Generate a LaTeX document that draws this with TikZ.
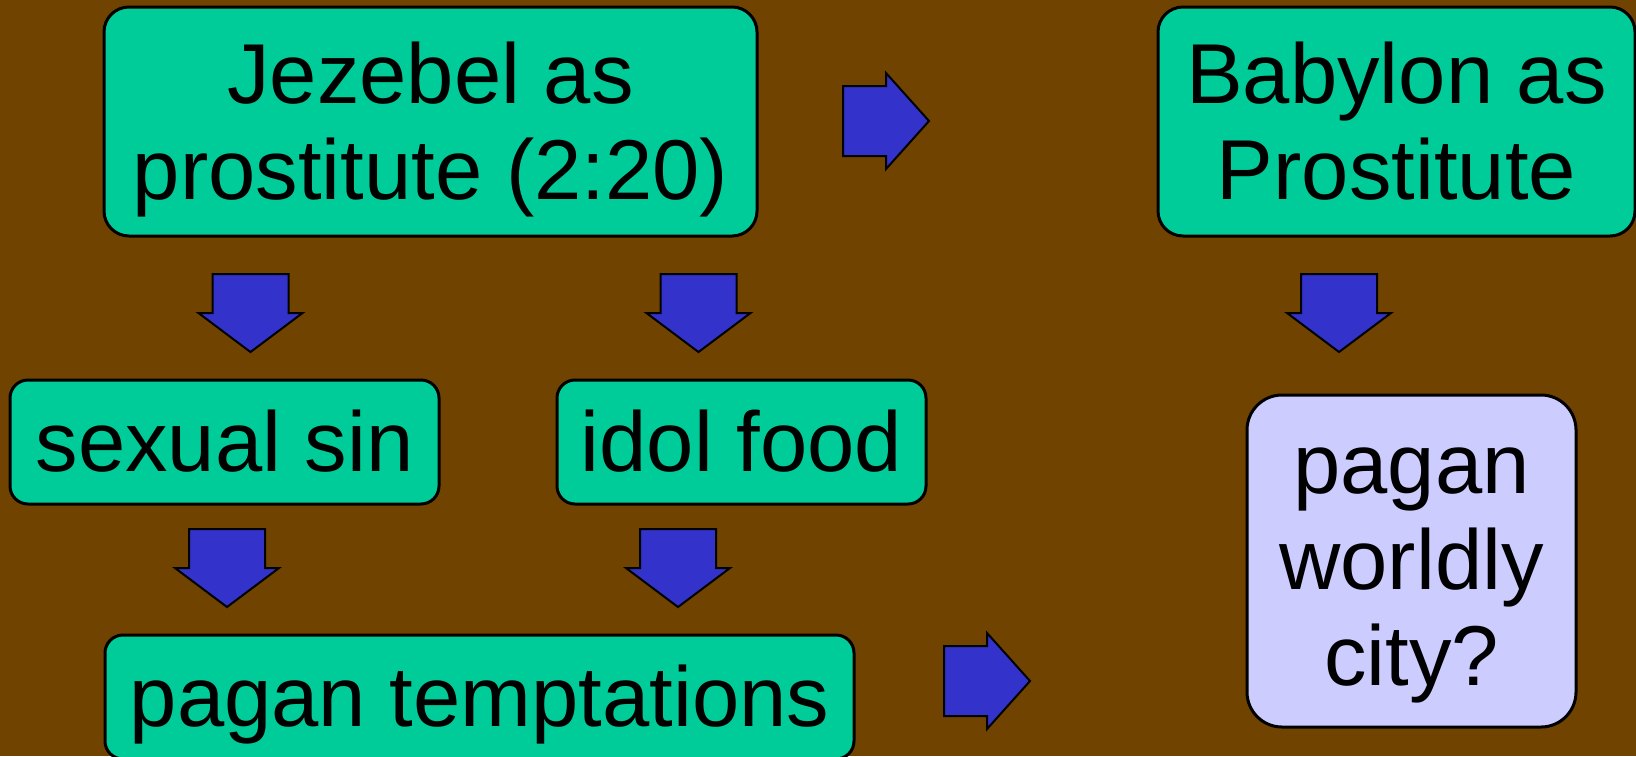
\documentclass[tikz,border=0pt]{standalone}
\usepackage{fontspec}
\setmainfont{Liberation Sans}
\definecolor{bgbrown}{RGB}{112,67,0}
\definecolor{boxteal}{RGB}{0,204,153}
\definecolor{arrowblue}{RGB}{51,51,204}
\definecolor{citylav}{RGB}{204,204,255}
\begin{document}
\begin{tikzpicture}[x=0.5pt,y=-0.5pt,
  box/.style={draw=black, line width=1.5pt, fill=boxteal, rounded corners=9pt,
    inner sep=0pt, align=center, font=\fontsize{42.5pt}{48pt}\selectfont,
    text height=29pt, text depth=0pt},
  bigbox/.style={box, rounded corners=12.5pt, text height=77.5pt, text depth=0pt},
  citybox/.style={box, fill=citylav, rounded corners=17.5pt, text height=124pt, text depth=0pt},
  blockarrow/.style={draw=black, line width=1pt, fill=arrowblue, line join=miter},
  downarrow/.pic={\path[blockarrow] (-38,0) -- (38,0) -- (38,39) -- (52,39) -- (0,78) -- (-52,39) -- (-38,39) -- cycle;},
  rightarrow/.pic={\path[blockarrow] (0,-35) -- (43,-35) -- (43,-48) -- (86,0) -- (43,48) -- (43,35) -- (0,35) -- cycle;}
]
\fill[bgbrown] (0,0) rectangle (1636,756);
\useasboundingbox (0,0) rectangle (1636,756);

\node[bigbox, minimum width=326.5pt, minimum height=114.5pt] (jez) at (430.5,121.5) {Jezebel as\\prostitute (2:20)};
\node[bigbox, minimum width=238.5pt, minimum height=114.5pt] (bab) at (1396.5,121.5) {Babylon as\\Prostitute};
\node[box, minimum width=214.5pt, minimum height=62pt] (sex) at (224.5,442) {sexual sin};
\node[box, minimum width=184.5pt, minimum height=62pt] (idol) at (741.5,442) {idol food};
\node[box, minimum width=374.5pt, minimum height=62pt] (tempt) at (479.5,697) {pagan temptations};
\node[citybox, minimum width=164.5pt, minimum height=166pt] (city) at (1411.5,561) {pagan\\worldly\\city?};

\pic at (250.5,274) {downarrow};
\pic at (698.5,274) {downarrow};
\pic at (1339,274) {downarrow};
\pic at (227,529) {downarrow};
\pic at (678,529) {downarrow};
\pic at (843,121) {rightarrow};
\pic at (944,681) {rightarrow};
\end{tikzpicture}
\end{document}
